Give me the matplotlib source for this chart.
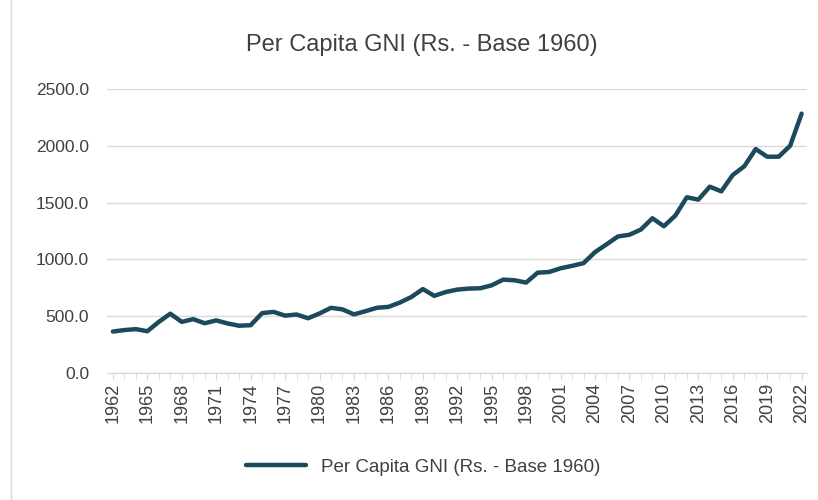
import numpy as np
import matplotlib.pyplot as plt

years = list(range(1962, 2023))
gni = [365, 378, 386, 368, 450, 522, 450, 474, 438, 463, 436, 416, 421, 527, 538, 505,
       515, 482, 524, 574, 560, 516, 544, 574, 582, 620, 669, 739, 679, 713,
       734, 743, 746, 772, 822, 816, 796, 883, 889, 922, 943, 967, 1064, 1132,
       1202, 1217, 1263, 1362, 1292, 1386, 1547, 1526, 1640, 1599, 1743, 1819,
       1971, 1904, 1904, 2000, 2283]
series_name = 'Per Capita GNI (Rs. - Base 1960)'

plt.rcParams['font.family'] = ['Liberation Sans', 'DejaVu Sans']
txt = '#404040'
grid = '#D9D9D9'

fig = plt.figure(figsize=(8.18, 5), dpi=100)
ax = fig.add_axes([0.131, 0.254, 0.856, 0.568])

ax.plot(years, gni, color='#1B4A5C', lw=3.2, solid_capstyle='round',
        solid_joinstyle='round', label=series_name)

ax.set_ylim(0, 2500)
ax.set_yticks(np.arange(0, 2501, 500))
ax.set_yticklabels([f'{v:.1f}' for v in np.arange(0, 2501, 500)])
ax.set_xlim(1961.5, 2022.5)
ax.set_xticks(years[::3])
ax.set_xticklabels([str(y) for y in years[::3]], rotation=90)
ax.set_xticks(years, minor=True)

ax.grid(axis='y', color=grid, lw=1)
ax.set_axisbelow(True)
for s in ['top', 'right', 'left']:
    ax.spines[s].set_visible(False)
ax.spines['bottom'].set_color(grid)
ax.tick_params(axis='y', length=0, labelsize=12.5, labelcolor=txt, pad=13)
ax.tick_params(axis='x', which='both', length=5, color=grid, labelsize=13,
               labelcolor=txt, pad=2)

fig.text(0.516, 0.91, series_name, ha='center', va='center', fontsize=17, color=txt)
fig.legend(loc='center', bbox_to_anchor=(0.517, 0.066), frameon=False,
           fontsize=13.5, labelcolor=txt, handlelength=3.2)

fig.add_artist(plt.Line2D([0.013, 0.013], [0, 1], transform=fig.transFigure,
                          color=grid, lw=1))

fig.savefig('out.png', dpi=100)
